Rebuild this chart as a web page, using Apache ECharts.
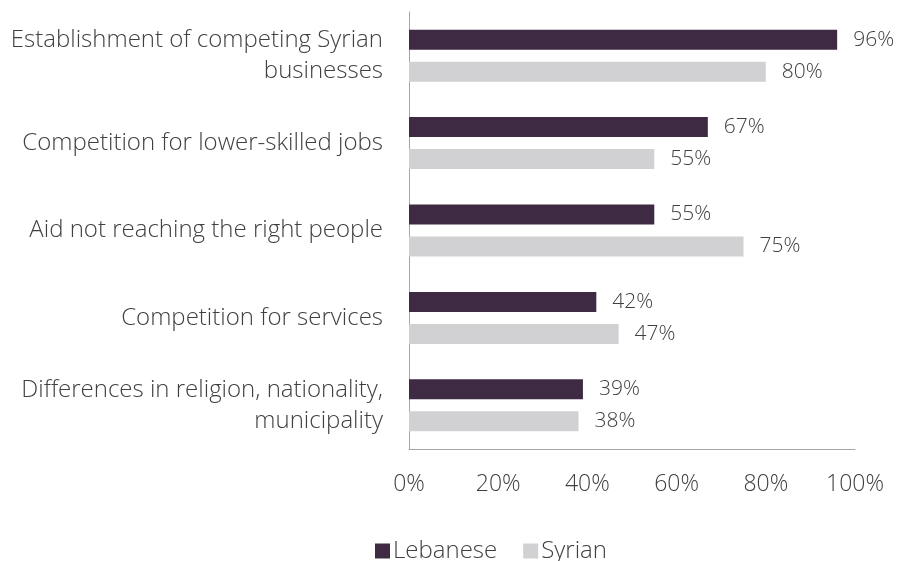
<!DOCTYPE html>
<html>
<head>
<meta charset="utf-8">
<script src="https://cdn.jsdelivr.net/npm/echarts@6/dist/echarts.min.js"></script>
<style>
  html, body { margin: 0; padding: 0; background: #fff; }
  #chart { width: 897px; height: 561px; }
</style>
</head>
<body>
<div id="chart"></div>
<script>
// Perceived sources of tension, share of respondents (%)
const categories = [
  'Establishment of competing Syrian\nbusinesses',
  'Competition for lower-skilled jobs',
  'Aid not reaching the right people',
  'Competition for services',
  'Differences in religion, nationality,\nmunicipality'
];
const lebanese = [96, 67, 55, 42, 39];
const syrian = [80, 55, 75, 47, 38];
const seriesNames = ['Lebanese', 'Syrian'];

const FONT = '"Open Sans", "Noto Sans", sans-serif';
const TEXT = '#404040';

const chart = echarts.init(document.getElementById('chart'));
chart.setOption({
  animation: false,
  textStyle: { fontFamily: FONT, fontWeight: 300 },
  grid: { left: 409, right: 42, top: 12, bottom: 112, containLabel: false },
  legend: {
    data: seriesNames,
    bottom: -7,
    left: 370,
    itemWidth: 15,
    itemHeight: 15,
    itemGap: 26,
    icon: 'rect',
    textStyle: { fontFamily: FONT, fontWeight: 300, fontSize: 24, color: TEXT, padding: [0, 0, 0, -2] }
  },
  xAxis: {
    type: 'value',
    min: 0,
    max: 100,
    interval: 20,
    axisLine: { show: true, lineStyle: { color: '#a6a6a6', width: 1 } },
    axisTick: { show: false },
    splitLine: { show: false },
    axisLabel: {
      formatter: '{value}%',
      margin: 24,
      fontFamily: FONT, fontWeight: 300, fontSize: 23, color: TEXT
    }
  },
  yAxis: {
    type: 'category',
    data: categories,
    inverse: true,
    axisLine: { show: true, lineStyle: { color: '#a6a6a6', width: 1 } },
    axisTick: { show: false },
    axisLabel: {
      margin: 26,
      align: 'right',
      lineHeight: 31,
      fontFamily: FONT, fontWeight: 300, fontSize: 24, color: TEXT
    }
  },
  series: [
    {
      name: seriesNames[0],
      type: 'bar',
      data: lebanese,
      barWidth: 20,
      barGap: '60%',
      itemStyle: { color: '#3e2b43' },
      label: {
        show: true, position: 'right', distance: 16, formatter: '{c}%',
        fontFamily: FONT, fontWeight: 300, fontSize: 21, color: TEXT
      }
    },
    {
      name: seriesNames[1],
      type: 'bar',
      data: syrian,
      barWidth: 20,
      itemStyle: { color: '#d1d1d3' },
      label: {
        show: true, position: 'right', distance: 16, formatter: '{c}%',
        fontFamily: FONT, fontWeight: 300, fontSize: 21, color: TEXT
      }
    }
  ]
});
</script>
</body>
</html>
